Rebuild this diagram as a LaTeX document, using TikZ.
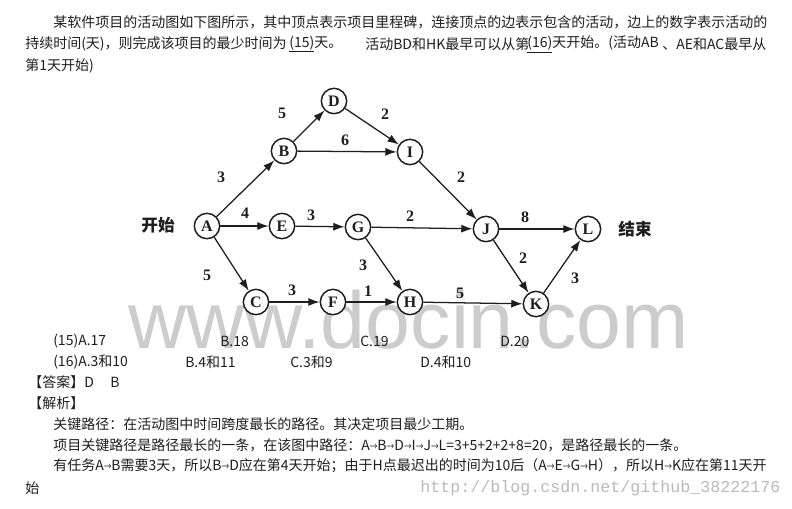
\documentclass[tikz,border=0pt]{standalone}
\usepackage{fontspec}
\setmainfont{Liberation Serif}
\newfontfamily\cjk{Noto Sans CJK SC}
\newfontfamily\wmfont{Liberation Sans}
\newfontfamily\urlfont{Liberation Mono}
\usetikzlibrary{arrows.meta}
\definecolor{ink}{RGB}{30,30,30}
\newcommand\rarr{\scalebox{0.55}[0.75]{→}}
\begin{document}
\begin{tikzpicture}[x=0.75pt,y=-0.75pt,
  vtx/.style={circle,draw=ink,line width=1.1pt,fill=white,minimum size=19pt,inner sep=0pt,
    text=ink,font=\fontsize{12}{12}\selectfont\bfseries},
  arc/.style={draw=ink,line width=0.95pt,-{Latex[length=8.5pt,width=6pt]}},
  wl/.style={inner sep=0pt,text=ink,font=\fontsize{12}{12}\selectfont\bfseries},
  body/.style={anchor=west,inner sep=0pt,text=ink,font=\cjk\fontsize{10.5}{10.5}\selectfont},
  side/.style={inner sep=0pt,text=ink,font=\cjk\fontsize{12.5}{12.5}\selectfont\bfseries}]
\fill[white] (0,0) rectangle (792,508);
\path[use as bounding box] (0,0) rectangle (792,508);
% watermarks
\node[anchor=base west,inner sep=0pt,text=black!20,font=\wmfont\fontsize{60.5}{60.5}\selectfont] (wm) at (128,348) {www.docin.com};
\node[anchor=west,inner sep=0pt,text=black!27,font=\urlfont\fontsize{12.5}{12.5}\selectfont] (url) at (420,488) {http://blog.csdn.net/github\_38222176};
% question text
\node[body] (q1) at (53,22) {某软件项目的活动图如下图所示，其中顶点表示项目里程碑，连接顶点的边表示包含的活动，边上的数字表示活动的};
\node[body] (q2a) at (25,44) {持续时间(天)，则完成该项目的最少时间为};
\node[body] (q2b) at (289,44) {\underline{(15)}天。};
\node[body] (q2c) at (365,44) {活动BD和HK最早可以从第};
\node[body] (q2d) at (527,44) {\underline{(16)}天开始。(活动AB};
\node[body] (q2e) at (662,44) {、AE和AC最早从};
\node[body] (q3) at (25,66) {第1天开始)};
% graph
\node[vtx] (A) at (207,226) {A};
\node[vtx] (B) at (284,151) {B};
\node[vtx] (D) at (334,101) {D};
\node[vtx] (I) at (410,152) {I};
\node[vtx] (E) at (282,226) {E};
\node[vtx] (G) at (358,227) {G};
\node[vtx] (J) at (486,229) {J};
\node[vtx] (L) at (588,229) {L};
\node[vtx] (C) at (256,302) {C};
\node[vtx] (F) at (333,302) {F};
\node[vtx] (H) at (410,302) {H};
\node[vtx] (K) at (536,304) {K};
\node[side] (start) at (158,225) {开始};
\node[side] (end) at (635,229) {结束};
\draw[arc] (A) -- (B);
\draw[arc] (B) -- (D);
\draw[arc] (B) -- (I);
\draw[arc] (D) -- (I);
\draw[arc] (I) -- (J);
\draw[arc] (A) -- (E);
\draw[arc] (E) -- (G);
\draw[arc] (G) -- (J);
\draw[arc] (A) -- (C);
\draw[arc] (C) -- (F);
\draw[arc] (F) -- (H);
\draw[arc] (G) -- (H);
\draw[arc] (H) -- (K);
\draw[arc] (J) -- (L);
\draw[arc] (J) -- (K);
\draw[arc] (K) -- (L);
\node[wl] (lAB) at (221,177) {3};
\node[wl] (lBD) at (282,113) {5};
\node[wl] (lBI) at (345,140) {6};
\node[wl] (lDI) at (385,114) {2};
\node[wl] (lIJ) at (461,177) {2};
\node[wl] (lAE) at (245,213) {4};
\node[wl] (lEG) at (311,215) {3};
\node[wl] (lGJ) at (410,216) {2};
\node[wl] (lAC) at (207,275) {5};
\node[wl] (lGH) at (363,265) {3};
\node[wl] (lCF) at (292,290) {3};
\node[wl] (lFH) at (368,291) {1};
\node[wl] (lHK) at (460,293) {5};
\node[wl] (lJL) at (525,217) {8};
\node[wl] (lJK) at (523,258) {2};
\node[wl] (lKL) at (575,278) {3};
% answer options
\node[body] (o1a) at (53,341) {(15)A.17};
\node[body] (o1b) at (220,341) {B.18};
\node[body] (o1c) at (360,341) {C.19};
\node[body] (o1d) at (500,341) {D.20};
\node[body] (o2a) at (53,362) {(16)A.3和10};
\node[body] (o2b) at (185,362) {B.4和11};
\node[body] (o2c) at (290,362) {C.3和9};
\node[body] (o2d) at (420,362) {D.4和10};
\node[body] (ans) at (28,382) {【答案】D};
\node[body] (ansb) at (110,382) {B};
\node[body] (ana) at (28,403) {【解析】};
\node[body] (e1) at (53,424) {关键路径：在活动图中时间跨度最长的路径。其决定项目最少工期。};
\node[body] (e2) at (53,445) {项目关键路径是路径最长的一条，在该图中路径：A\rarr B\rarr D\rarr I\rarr J\rarr L=3+5+2+2+8=20，是路径最长的一条。};
\node[body] (e3) at (53,466) {有任务A\rarr B需要3天，所以B\rarr D应在第4天开始；由于H点最迟出的时间为10后（A\rarr E\rarr G\rarr H），所以H\rarr K应在第11天开};
\node[body] (e4) at (25,488) {始};
\end{tikzpicture}
\end{document}
